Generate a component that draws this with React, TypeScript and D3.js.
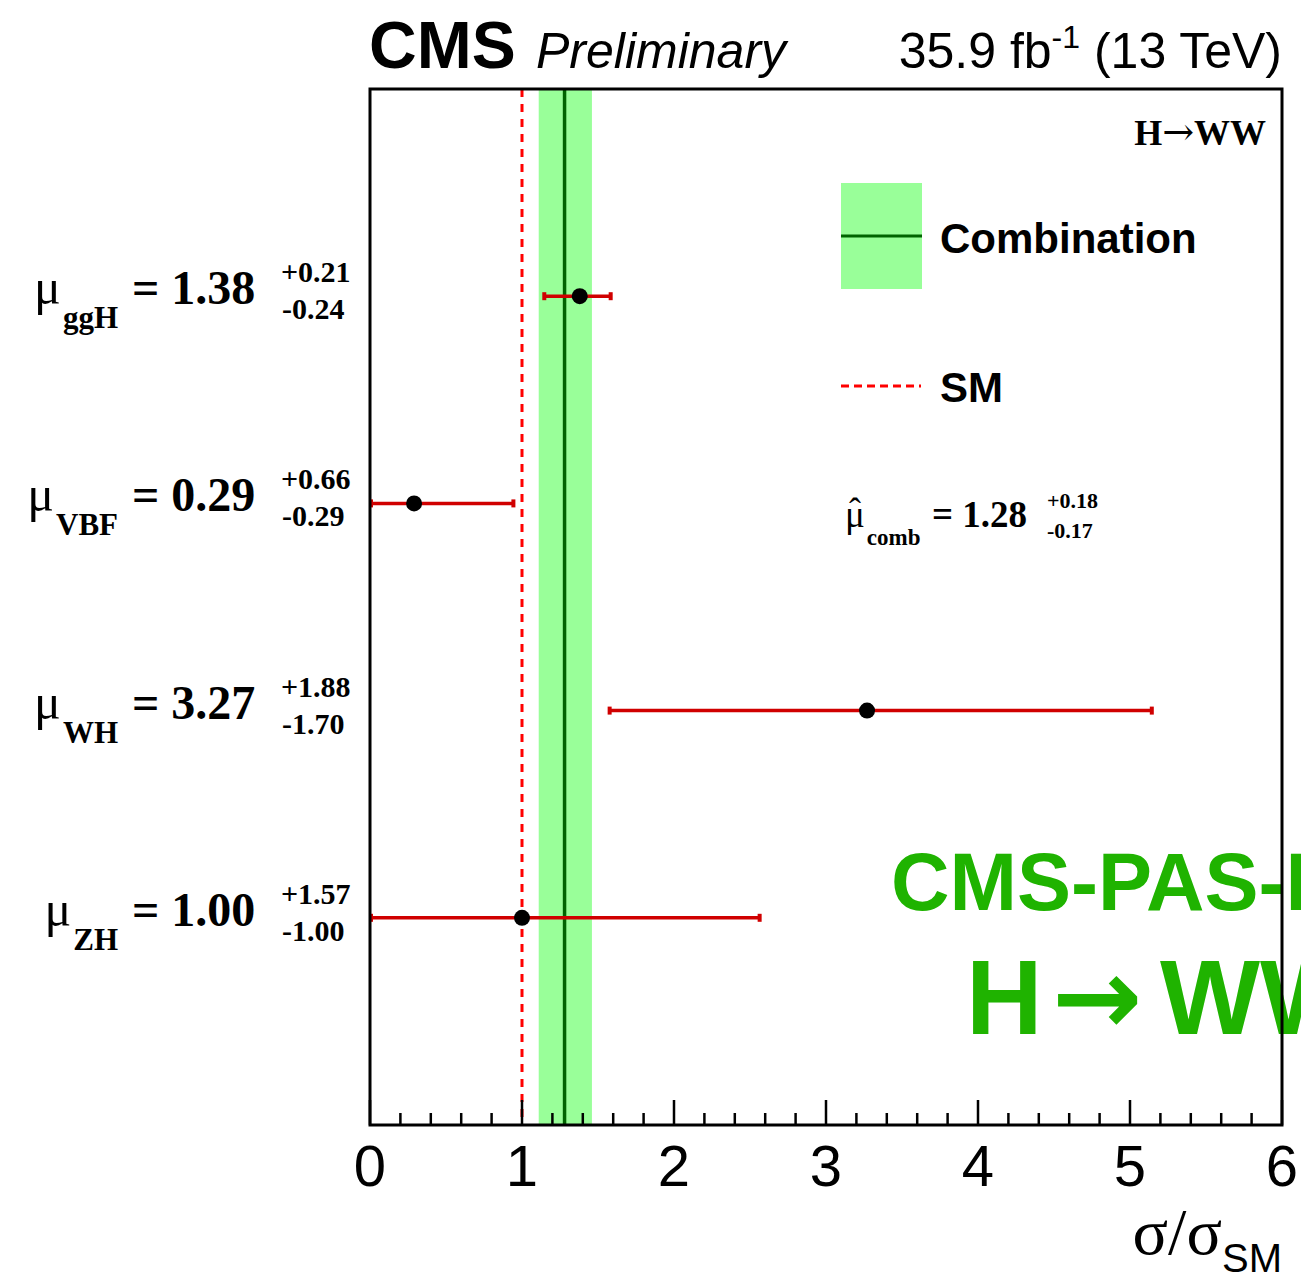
import React from "react";
import * as d3 from "d3";

// Signal-strength measurements per production mode
const channels = ["ggH", "VBF", "WH", "ZH"];
const muValues = [1.38, 0.29, 3.27, 1.0];
const errUp = [0.21, 0.66, 1.88, 1.57];
const errDown = [0.24, 0.29, 1.7, 1.0];

// Combined fit
const combMu = 1.28;
const combUp = 0.18;
const combDown = 0.17;

// Standard-model reference
const smValue = 1;

const xMajorTicks = [0, 1, 2, 3, 4, 5, 6];

const W = 1301;
const H = 1275;
const frame = { left: 370, right: 1282, top: 89, bottom: 1125 };

const SANS = "'Liberation Sans', Arial, Helvetica, sans-serif";
const SERIF = "'Liberation Serif', 'Times New Roman', serif";
const RED_BAR = "#d00000";
const BAND = "#99ff99";
const COMB_LINE = "#006400";
const WATERMARK = "#1fb300";

export default function App() {
  const x = d3.scaleLinear().domain([0, 6]).range([frame.left, frame.right]);
  const y = d3.scaleLinear().domain([0, channels.length + 1]).range([frame.top, frame.bottom]);

  const minorTicks = d3
    .range(0, 6.0001, 0.2)
    .map((v) => +v.toFixed(1))
    .filter((v) => !xMajorTicks.includes(v));

  const fmt = (v: number) => v.toFixed(2);

  return (
    <svg
      width={W}
      height={H}
      viewBox={`0 0 ${W} ${H}`}
      style={{ position: "absolute", left: 0, top: 0, background: "#fff" }}
    >
      <rect x={0} y={0} width={W} height={H} fill="#fff" />

      {/* combined result band and central value */}
      <rect
        x={x(combMu - combDown)}
        y={frame.top}
        width={x(combMu + combUp) - x(combMu - combDown)}
        height={frame.bottom - frame.top}
        fill={BAND}
      />
      <line x1={x(combMu)} x2={x(combMu)} y1={frame.top} y2={frame.bottom} stroke={COMB_LINE} strokeWidth={3.5} />

      {/* SM expectation */}
      <line
        x1={x(smValue)}
        x2={x(smValue)}
        y1={frame.top}
        y2={frame.bottom}
        stroke="#ff0000"
        strokeWidth={3}
        strokeDasharray="8,7"
      />

      {/* watermark */}
      <text x={891} y={910} fontFamily={SANS} fontWeight="bold" fontSize={81} fill={WATERMARK}>
        CMS-PAS-HIG-16-042
      </text>
      <text x={966} y={1034} fontFamily={SANS} fontWeight="bold" fontSize={106} fill={WATERMARK}>
        H
      </text>
      <text x={1052} y={1034} fontFamily="'DejaVu Sans', sans-serif" fontWeight="bold" fontSize={108} fill={WATERMARK}>
        →
      </text>
      <text x={1160} y={1034} fontFamily={SANS} fontWeight="bold" fontSize={106} fill={WATERMARK}>
        WW
      </text>

      {/* error bars and points */}
      {channels.map((c, i) => {
        const cy = y(i + 1);
        const lo = Math.max(0, muValues[i] - errDown[i]);
        const hi = muValues[i] + errUp[i];
        return (
          <g key={c}>
            <line x1={x(lo)} x2={x(hi)} y1={cy} y2={cy} stroke={RED_BAR} strokeWidth={3.5} />
            <rect x={x(lo) - 1} y={cy - 4} width={4} height={8} fill={RED_BAR} />
            <rect x={x(hi) - 3} y={cy - 4} width={4} height={8} fill={RED_BAR} />
            <circle cx={x(muValues[i])} cy={cy} r={8} fill="#000" />
          </g>
        );
      })}

      {/* frame */}
      <rect
        x={frame.left}
        y={frame.top}
        width={frame.right - frame.left}
        height={frame.bottom - frame.top}
        fill="none"
        stroke="#000"
        strokeWidth={3}
      />

      {/* x ticks */}
      {xMajorTicks.map((t) => (
        <line key={"M" + t} x1={x(t)} x2={x(t)} y1={frame.bottom} y2={frame.bottom - 25} stroke="#000" strokeWidth={2.5} />
      ))}
      {minorTicks.map((t) => (
        <line key={"m" + t} x1={x(t)} x2={x(t)} y1={frame.bottom} y2={frame.bottom - 12} stroke="#000" strokeWidth={2.5} />
      ))}
      {xMajorTicks.map((t) => (
        <text key={"L" + t} x={x(t)} y={1186} textAnchor="middle" fontFamily={SANS} fontSize={58} fill="#000">
          {t}
        </text>
      ))}

      {/* x axis title */}
      <text x={frame.right} y={1254} textAnchor="end" fill="#000">
        <tspan fontFamily={SERIF} fontSize={66}>σ/σ</tspan>
        <tspan fontFamily={SANS} fontSize={40} dy={18}>SM</tspan>
      </text>

      {/* header */}
      <text x={369} y={68} fontFamily={SANS} fontWeight="bold" fontSize={66} fill="#000">
        CMS
      </text>
      <text x={536} y={68} fontFamily={SANS} fontStyle="italic" fontSize={50} fill="#000">
        Preliminary
      </text>
      <text x={1282} y={68} textAnchor="end" fontFamily={SANS} fontSize={50} fill="#000">
        <tspan>35.9 fb</tspan>
        <tspan fontSize={32} dy={-20}>-1</tspan>
        <tspan dy={20}> (13 TeV)</tspan>
      </text>

      {/* process label */}
      <text x={1266} y={145} textAnchor="end" fontFamily={SERIF} fontWeight="bold" fontSize={36} fill="#000">
        <tspan>H</tspan>
        <tspan fontFamily="'DejaVu Serif', serif" fontWeight="normal" fontSize={38}>→</tspan>
        <tspan>WW</tspan>
      </text>

      {/* legend */}
      <rect x={841} y={183} width={81} height={106} fill={BAND} />
      <line x1={841} x2={922} y1={236} y2={236} stroke={COMB_LINE} strokeWidth={3} />
      <text x={940} y={253} fontFamily={SANS} fontWeight="bold" fontSize={42} fill="#000">
        Combination
      </text>
      <line x1={841} x2={921} y1={386} y2={386} stroke="#ff0000" strokeWidth={3} strokeDasharray="8,5" />
      <text x={940} y={402} fontFamily={SANS} fontWeight="bold" fontSize={42} fill="#000">
        SM
      </text>

      {/* combined value label */}
      <text x={845} y={527} fontFamily={SERIF} fill="#000">
        <tspan fontSize={37}>μ</tspan>
        <tspan fontSize={23} fontWeight="bold" dy={18} dx={2}>comb</tspan>
      </text>
      <text x={855} y={523} textAnchor="middle" fontFamily={SERIF} fontSize={36} fill="#000">
        ˆ
      </text>
      <text x={932} y={527} fontFamily={SERIF} fontWeight="bold" fontSize={37} fill="#000">
        = {fmt(combMu)}
      </text>
      <text x={1047} y={508} fontFamily={SERIF} fontWeight="bold" fontSize={22} fill="#000">
        +{fmt(combUp)}
      </text>
      <text x={1047} y={538} fontFamily={SERIF} fontWeight="bold" fontSize={22} fill="#000">
        -{fmt(combDown)}
      </text>

      {/* per-channel labels */}
      {channels.map((c, i) => {
        const cy = y(i + 1);
        return (
          <g key={"lab" + c} fill="#000">
            <text x={118} y={cy + 8} textAnchor="end" fontFamily={SERIF}>
              <tspan fontSize={50}>μ</tspan>
              <tspan fontSize={31} fontWeight="bold" dy={24} dx={2}>{c}</tspan>
            </text>
            <text x={132} y={cy + 8} fontFamily={SERIF} fontWeight="bold" fontSize={48}>
              = {fmt(muValues[i])}
            </text>
            <text x={281} y={cy - 14} fontFamily={SERIF} fontWeight="bold" fontSize={30}>
              +{fmt(errUp[i])}
            </text>
            <text x={282} y={cy + 23} fontFamily={SERIF} fontWeight="bold" fontSize={30}>
              -{fmt(errDown[i])}
            </text>
          </g>
        );
      })}
    </svg>
  );
}
